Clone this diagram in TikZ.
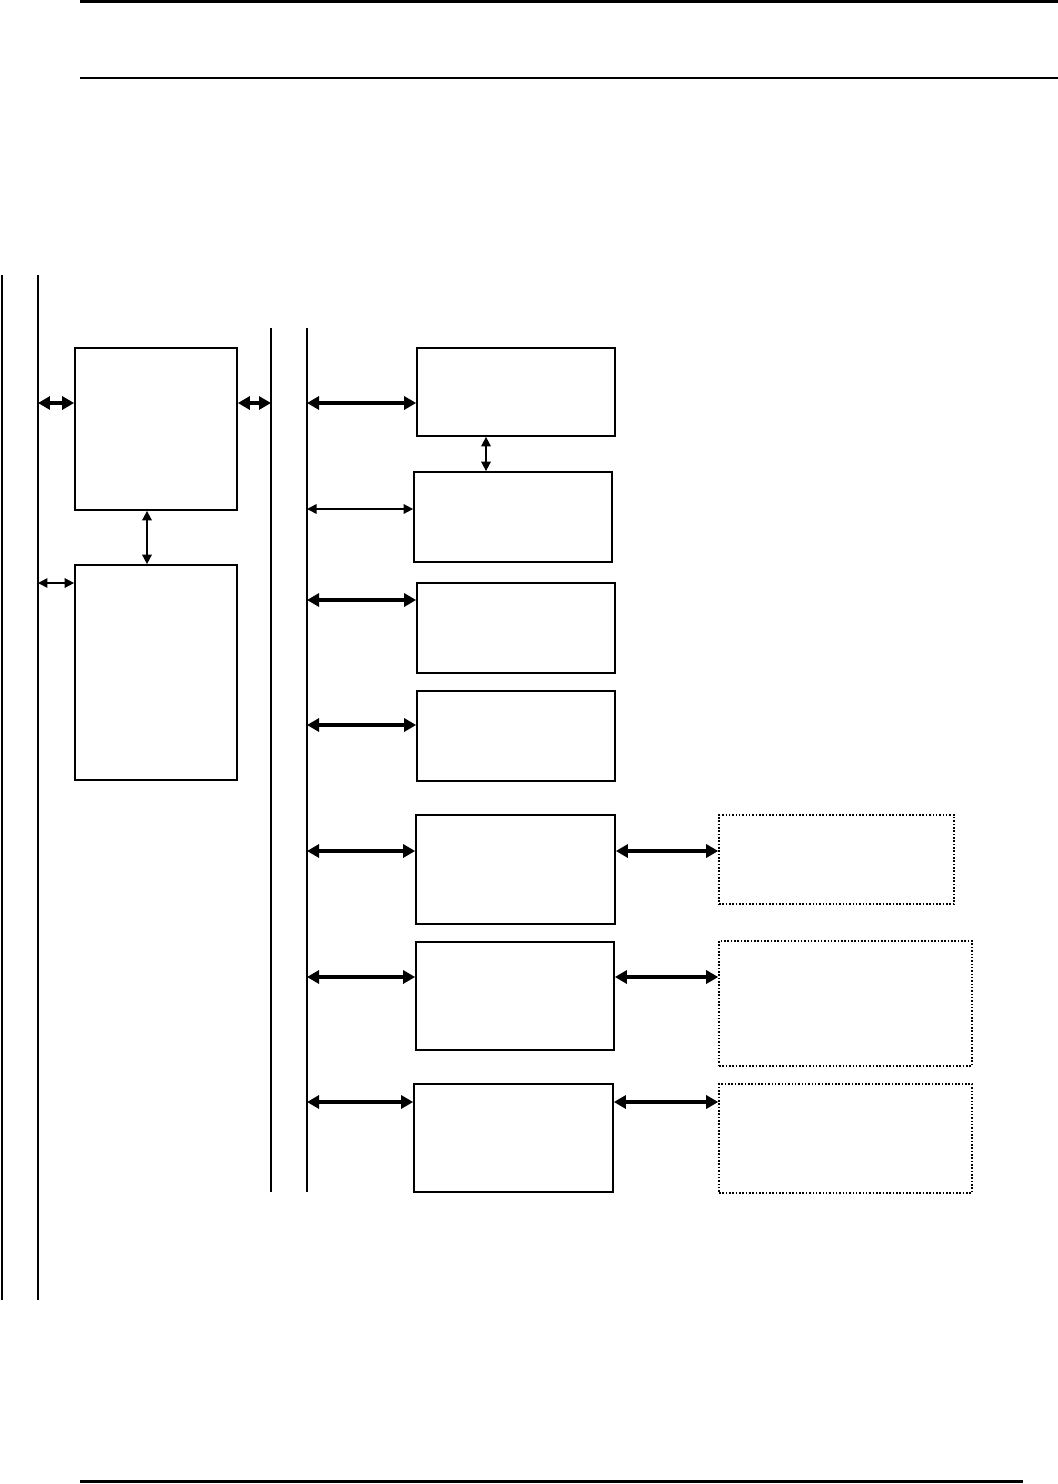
\documentclass[tikz,border=0pt]{standalone}
\usepackage{tikz}
\usetikzlibrary{arrows.meta, positioning, calc}

\begin{document}
\begin{tikzpicture}[
    x=0.02cm, y=-0.02cm,
    block/.style={rectangle, draw=black, line width=1pt, fill=#1, minimum width=3.96cm, minimum height=1.8cm, inner sep=0pt},
    block/.default={white},
    extblock/.style={rectangle, draw=black, line width=0.9pt, densely dotted, minimum width=5.06cm, minimum height=2.18cm, inner sep=0pt},
    bus/.style={line width=0.8pt, black},
    rule/.style={line width=#1, black},
    rule/.default={1.2pt},
    biconn/.style={{Triangle[length=2.4mm, width=2.6mm]}-{Triangle[length=2.4mm, width=2.6mm]}, line width=2.2pt, #1},
    biconn/.default={black},
    thinconn/.style={{Triangle[length=1.9mm, width=1.9mm]}-{Triangle[length=1.9mm, width=1.9mm]}, line width=0.9pt, #1},
    thinconn/.default={black}
]
\useasboundingbox (0,0) rectangle (1058,1484);

% === PAGE RULES ===
\draw[rule] (80,1.5) -- (1058,1.5);
\draw[rule] (80,78) -- (1058,78);
\draw[rule=1.7pt] (80,1481) -- (1023,1481);

% === BUSES ===
\coordinate (sysbusL) at (2,275);
\coordinate (sysbusR) at (38,275);
\coordinate (iobusL) at (271,328);
\coordinate (iobusR) at (307,328);
\draw[bus] (sysbusL) -- (2,1300);
\draw[bus] (sysbusR) -- (38,1300);
\draw[bus] (iobusL) -- (271,1192);
\draw[bus] (iobusR) -- (307,1192);

% === LEFT COLUMN ===
\node[block, minimum width=3.24cm, minimum height=3.24cm] (cpu) at (156,429) {};
\node[block, minimum width=3.24cm, minimum height=4.3cm] (mem) at (156,672.5) {};

% === CONTROLLERS ===
\node[block, minimum height=1.76cm] (ctl1) at (516,392) {};
\node[block] (ctl2) at (513,517) {};
\node[block] (ctl3) at (516,628) {};
\node[block] (ctl4) at (516,736) {};
\node[block, minimum width=3.98cm, minimum height=2.18cm] (ctl5) at (515.5,869.5) {};
\node[block, minimum height=2.16cm] (ctl6) at (515,996) {};
\node[block, minimum width=3.98cm, minimum height=2.16cm] (ctl7) at (513.5,1138) {};

% === DEVICES ===
\node[extblock, minimum width=4.7cm, minimum height=1.78cm] (dev1) at (836.5,859.5) {};
\node[extblock, minimum height=2.5cm] (dev2) at (845.5,1003.5) {};
\node[extblock] (dev3) at (845.5,1138.5) {};

% === TAPS ===
\coordinate (tapcpu) at (38,403);
\coordinate (tapio) at (271,403);
\coordinate (tapmem) at (38,583);
\coordinate (t1) at (307,403);
\coordinate (t2) at (307,509);
\coordinate (t3) at (307,600);
\coordinate (t4) at (307,725);
\coordinate (t5) at (307,851);
\coordinate (t6) at (307,977);
\coordinate (t7) at (307,1102);

% === CONNECTIONS ===
\draw[biconn] (tapcpu) -- (tapcpu -| cpu.west);
\draw[biconn] (tapio -| cpu.east) -- (tapio);
\draw[thinconn] (tapmem) -- (tapmem -| mem.west);
\draw[thinconn] ([xshift=-1.8mm] cpu.south) -- ([xshift=-1.8mm] mem.north);

\draw[biconn] (t1) -- (t1 -| ctl1.west);
\draw[thinconn] (t2) -- (t2 -| ctl2.west);
\draw[biconn] (t3) -- (t3 -| ctl3.west);
\draw[biconn] (t4) -- (t4 -| ctl4.west);
\draw[biconn] (t5) -- (t5 -| ctl5.west);
\draw[biconn] (t6) -- (t6 -| ctl6.west);
\draw[biconn] (t7) -- (t7 -| ctl7.west);
\draw[thinconn] ([xshift=-6mm] ctl1.south) -- ([xshift=-6mm] ctl1.south |- ctl2.north);

\draw[biconn] (t5 -| ctl5.east) -- (t5 -| dev1.west);
\draw[biconn] (t6 -| ctl6.east) -- (t6 -| dev2.west);
\draw[biconn] (t7 -| ctl7.east) -- (t7 -| dev3.west);

\end{tikzpicture}
\end{document}
